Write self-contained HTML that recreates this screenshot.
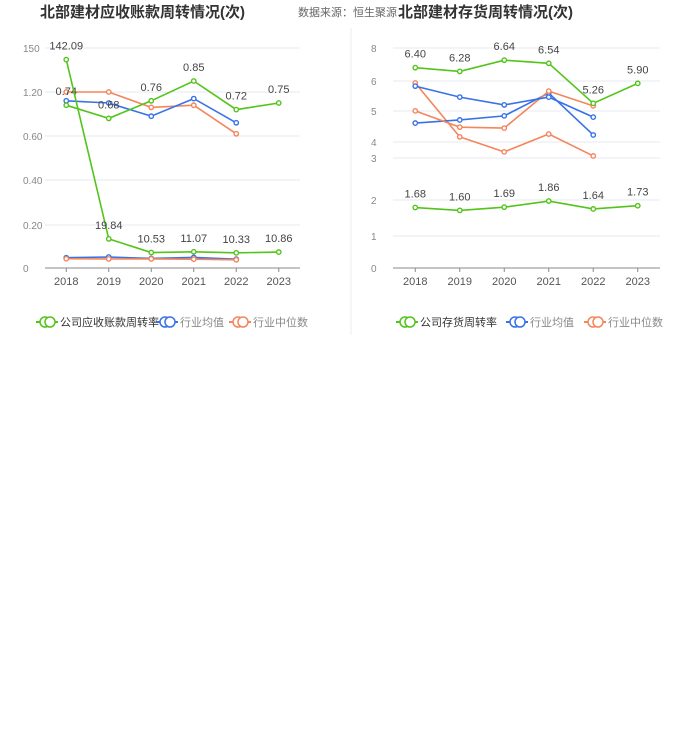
<!DOCTYPE html><html><head><meta charset="utf-8"><style>
body{margin:0;width:700px;height:733px;background:#fff;font-family:"Liberation Sans","Noto Sans CJK SC",sans-serif;overflow:hidden}
svg{position:absolute;left:0;top:0}
</style></head><body>
<svg id="c" width="700" height="733"></svg>
<script>
const years=['2018','2019','2020','2021','2022','2023'];
const L_days=[142.09,19.84,10.53,11.07,10.33,10.86];
const L_daysAvg=[7,7.5,6.5,7.2,6];
const L_daysMed=[6.3,6.2,6.2,6,5.6];
const L_rate=[0.74,0.68,0.76,0.85,0.72,0.75];
const L_rateAvg=[0.76,0.75,0.69,0.77,0.66];
const L_rateMed=[0.80,0.80,0.73,0.74,0.61];
const R_rate=[6.40,6.28,6.64,6.54,5.26,5.90];
const R_rateAvg=[5.81,5.46,5.21,5.46,4.82];
const R_rateMed=[5.02,4.50,4.47,5.65,5.18];
const R_days=[1.68,1.60,1.69,1.86,1.64,1.73];
const R_daysAvg=[4.63,4.73,4.86,5.59,4.25];
const R_daysMed=[5.91,4.19,3.71,4.28,3.58];
const S=document.getElementById('c');const NS='http://www.w3.org/2000/svg';
function el(t,a,txt){const e=document.createElementNS(NS,t);for(const k in a)e.setAttribute(k,a[k]);if(txt!=null)e.textContent=txt;S.appendChild(e);return e;}
function txt(x,y,s,o){const e=el('text',Object.assign({x:x,y:y,'font-size':11,fill:'#555'},o||{}),s);

return e;}
let t=txt(40,17,'北部建材应收账款周转情况(次)',{'font-size':15,'font-weight':'bold',fill:'#333'});

txt(298,16,'数据来源：恒生聚源',{'font-size':11,fill:'#666'});
t=txt(398,17,'北部建材存货周转情况(次)',{'font-size':15,'font-weight':'bold',fill:'#333'});

el('line',{x1:351,y1:28,x2:351,y2:335,stroke:'#eee'});
function panel(x0,x1,ticks,tickLbls,pfx){
  const xs=years.map((_,i)=>x0+(x1-x0)*(i+0.5)/6);
  ticks.forEach((y,i)=>{let g=el('line',{x1:x0,y1:y,x2:x1,y2:y,stroke:'#e6e8f0'});
  
  txt(x0-22,y+4,tickLbls[i],{fill:'#888','font-size':10});});
  let ax=el('line',{x1:x0,y1:268,x2:x1,y2:268,stroke:'#888'});
  
  xs.forEach((x,i)=>{el('line',{x1:x,y1:268,x2:x,y2:272,stroke:'#888'});txt(x,285,years[i],{'text-anchor':'middle',fill:'#555'});});
  return xs;
}
function series(xs,vals,sc,color,lab,name){
  const pts=vals.map((v,i)=>[xs[i],sc(v)]);
  const p=el('polyline',{points:pts.map(p=>p.join(',')).join(' '),fill:'none',stroke:color,'stroke-width':1.6});
  
  pts.forEach((q,i)=>{const c=el('circle',{cx:q[0],cy:q[1],r:2.2,fill:'#fff',stroke:color,'stroke-width':1.4});
  
  if(lab)txt(q[0],q[1]-10,vals[i].toFixed(2),{'text-anchor':'middle',fill:'#444'});});
}
const lx=panel(45,300,[48,92,136,180,225,268],['150','1.20','0.60','0.40','0.20','0'],'left');
const sD=v=>268-v*220/150, sR=v=>268-v*220;
series(lx,L_rateMed,sR,'#f5855b',false,'left-rate-median');
series(lx,L_rateAvg,sR,'#3772e8',false,'left-rate-avg');
series(lx,L_rate,sR,'#52c41a',true,'left-rate-company');
series(lx,L_daysAvg,sD,'#3772e8',false,'left-days-avg');
series(lx,L_daysMed,sD,'#f5855b',false,'left-days-median');
series(lx,L_days,sD,'#52c41a',true,'left-days-company');
const rx=panel(393,660,[48,81,111,142,158,200,236,268],['8','6','5','4','3','2','1','0'],'right');
const sA=v=>268-v*31.3, sB=v=>268-v*36;
series(rx,R_daysMed,sA,'#f5855b',false,'right-days-median');
series(rx,R_daysAvg,sA,'#3772e8',false,'right-days-avg');
series(rx,R_rateMed,sA,'#f5855b',false,'right-rate-median');
series(rx,R_rateAvg,sA,'#3772e8',false,'right-rate-avg');
series(rx,R_rate,sA,'#52c41a',true,'right-rate-company');
series(rx,R_days,sB,'#52c41a',true,'right-days-company');
function legend(x,items){items.forEach((it,i)=>{
  const g=el('g',{});
  const xx=x+it[2];
  el('line',{x1:xx,y1:322,x2:xx+22,y2:322,stroke:it[1],'stroke-width':2});
  el('circle',{cx:xx+9,cy:322,r:5,fill:'#fff',stroke:it[1],'stroke-width':1.5});
  el('circle',{cx:xx+14,cy:322,r:5,fill:'#fff',stroke:it[1],'stroke-width':1.5});
  txt(xx+24,326,it[0],{fill:it[3]||'#888'});});}
legend(36,[['公司应收账款周转率','#52c41a',0,'#333'],['行业均值','#3772e8',120],['行业中位数','#f5855b',193]]);
legend(396,[['公司存货周转率','#52c41a',0,'#333'],['行业均值','#3772e8',110],['行业中位数','#f5855b',188]]);
</script></body></html>
